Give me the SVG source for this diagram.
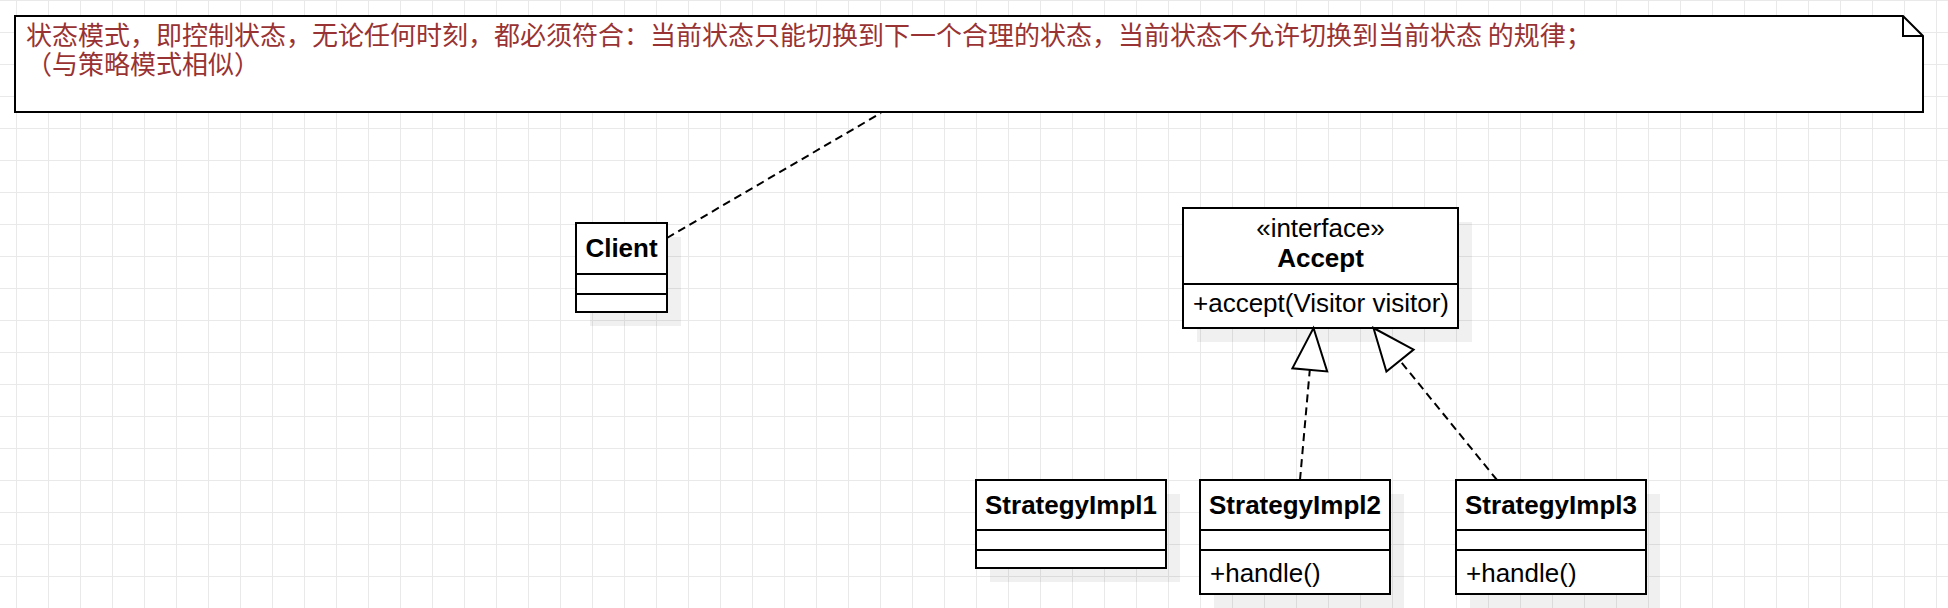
<svg xmlns="http://www.w3.org/2000/svg" width="1948" height="608" viewBox="0 0 1948 608">
<defs>
<pattern id="grid" x="0" y="0" width="32" height="32" patternUnits="userSpaceOnUse">
<rect x="16" y="0" width="1" height="32" fill="#e9e9e9"/>
<rect x="0" y="0" width="32" height="1" fill="#e9e9e9"/>
</pattern>
<style>
.box{fill:#fff;stroke:#000;stroke-width:2}
.ln{fill:none;stroke:#000;stroke-width:2}
.shadow{fill:#000;fill-opacity:0.06}
.t{font-family:"Liberation Sans",Arial,sans-serif;font-size:26px;fill:#000}
.b{font-weight:bold}
.c{text-anchor:middle}
.nt{font-family:"Noto Sans CJK SC","Noto Sans CJK TC",sans-serif;font-size:26px;fill:#993333}
.dash{fill:none;stroke:#000;stroke-width:2;stroke-dasharray:8 5}
.tri{fill:#fff;stroke:#000;stroke-width:2;stroke-linejoin:miter}
</style>
</defs>
<rect x="0" y="0" width="1948" height="608" fill="#fff"/>
<rect x="0" y="0" width="1948" height="608" fill="url(#grid)"/>

<g id="note">
<path class="box" d="M15,16 H1903 L1923,36 V112 H15 Z"/>
<path class="ln" d="M1903,16 V36 H1923"/>
<text class="nt" x="26" y="45">状态模式，即控制状态，无论任何时刻，都必须符合：当前状态只能切换到下一个合理的状态，当前状态不允许切换到当前状态 的规律；</text>
<text class="nt" x="26" y="74">（与策略模式相似）</text>
</g>

<g id="client">
<rect class="shadow" x="590" y="237" width="91" height="89"/>
<rect class="box" x="576" y="223" width="91" height="89"/>
<path class="ln" d="M576,274 H667 M576,294 H667"/>
<text class="t b c" x="621.5" y="257">Client</text>
</g>

<g id="accept">
<rect class="shadow" x="1197" y="222" width="275" height="120"/>
<rect class="box" x="1183" y="208" width="275" height="120"/>
<path class="ln" d="M1183,284 H1458"/>
<text class="t c" x="1320.5" y="236.5">«interface»</text>
<text class="t b c" x="1320.5" y="266.5">Accept</text>
<text class="t" x="1193" y="312">+accept(Visitor visitor)</text>
</g>

<g id="impl1">
<rect class="shadow" x="990" y="494" width="190" height="88"/>
<rect class="box" x="976" y="480" width="190" height="88"/>
<path class="ln" d="M976,530 H1166 M976,550 H1166"/>
<text class="t b c" x="1071" y="513.5">StrategyImpl1</text>
</g>

<g id="impl2">
<rect class="shadow" x="1214" y="494" width="190" height="114"/>
<rect class="box" x="1200" y="480" width="190" height="114"/>
<path class="ln" d="M1200,530 H1390 M1200,550 H1390"/>
<text class="t b c" x="1295" y="513.5">StrategyImpl2</text>
<text class="t" x="1210" y="581.5">+handle()</text>
</g>

<g id="impl3">
<rect class="shadow" x="1470" y="494" width="190" height="114"/>
<rect class="box" x="1456" y="480" width="190" height="114"/>
<path class="ln" d="M1456,530 H1646 M1456,550 H1646"/>
<text class="t b c" x="1551" y="513.5">StrategyImpl3</text>
<text class="t" x="1466" y="581.5">+handle()</text>
</g>

<g id="connectors">
<path class="dash" d="M667,238 L881,113"/>
<path class="dash" d="M1300,480 L1309.8,369.8"/>
<path class="tri" d="M1313.5,328 L1327.2,371.4 L1292.4,368.3 Z"/>
<path class="dash" d="M1497,480 L1400,360.6"/>
<path class="tri" d="M1373.5,328 L1413.6,349.6 L1386.4,371.6 Z"/>
</g>
</svg>
